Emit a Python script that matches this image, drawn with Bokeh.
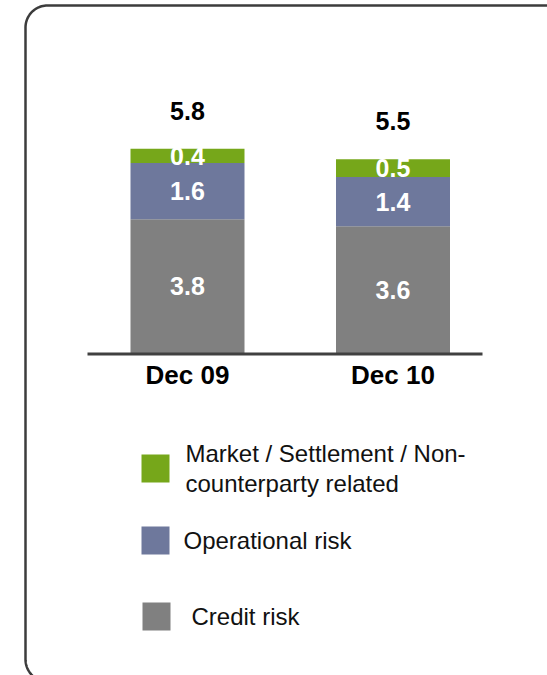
import numpy as np
from bokeh.plotting import figure
from bokeh.models import Range1d
from bokeh.core.properties import value
from bokeh.embed import file_html
from bokeh.resources import INLINE

# ---------------- data ----------------
periods = ["Dec 09", "Dec 10"]
credit_risk = [3.8, 3.6]
operational_risk = [1.6, 1.4]
market_settlement = [0.4, 0.5]
totals = [5.8, 5.5]

legend_labels = ["Market / Settlement / Non-\ncounterparty related",
                 "Operational risk",
                 "Credit risk"]

# ---------------- styles / layout ----------------
GREEN = "#76A71A"
BLUE = "#6E789C"
GRAY = "#808080"
EDGE = "#3C3C3C"
FONT = value("Liberation Sans")

W, H = 547, 675
OX, OY = 0, 0

base_px = 352.5                    # page y of bar base
top_px = 148.3                     # page y of tallest bar top
k = (base_px - top_px) / max(totals)   # px per unit

center0 = 187.0                    # page x of first category
step = 205.5                       # px between categories
bar_w_px = 114.0

p = figure(width=W, height=H, output_backend="svg", toolbar_location=None,
           x_range=Range1d(OX, OX + W), y_range=Range1d(OY + H, OY),
           x_axis_location=None, y_axis_location=None,
           min_border=0, outline_line_color=None)
p.grid.visible = False
p.background_fill_color = "white"
p.border_fill_color = "white"

p.extra_y_ranges = {"val": Range1d(-(OY + H - base_px) / k, (base_px - OY) / k)}
p.extra_x_ranges = {"cat": Range1d(-(center0 - OX) / step, (OX + W - center0) / step)}

# ---------------- rounded frame ----------------
def rounded_rect(l, t, r, b, rad, n=24):
    xs, ys = [], []
    corners = [((l + rad, t + rad), np.pi, 1.5 * np.pi),
               ((r - rad, t + rad), 1.5 * np.pi, 2 * np.pi),
               ((r - rad, b - rad), 0.0, 0.5 * np.pi),
               ((l + rad, b - rad), 0.5 * np.pi, np.pi)]
    for (cx, cy), a0, a1 in corners:
        th = np.linspace(a0, a1, n)
        xs.extend(cx + rad * np.cos(th))
        ys.extend(cy + rad * np.sin(th))
    xs.append(xs[0]); ys.append(ys[0])
    return xs, ys

fx, fy = rounded_rect(25, 5, 567, 681, 22)
p.line(fx, fy, line_color=EDGE, line_width=2.5)

# ---------------- bars ----------------
idx = np.arange(len(periods))
c = np.array(credit_risk)
o = np.array(operational_risk)
m = np.array(market_settlement)
bw = bar_w_px / step

p.vbar(x=idx, bottom=0, top=c, width=bw, fill_color=GRAY, line_color=None,
       x_range_name="cat", y_range_name="val")
p.vbar(x=idx, bottom=c, top=c + o, width=bw, fill_color=BLUE, line_color=None,
       x_range_name="cat", y_range_name="val")
p.vbar(x=idx, bottom=c + o, top=c + o + m, width=bw, fill_color=GREEN, line_color=None,
       x_range_name="cat", y_range_name="val")

# baseline
p.line([87, 482], [base_px + 1, base_px + 1], line_color="#404040", line_width=3)

# segment labels
seg_y = np.concatenate([c / 2, c + o / 2, c + o + m / 2])
seg_x = np.concatenate([idx, idx, idx])
seg_t = [f"{v:.1f}" for v in np.concatenate([c, o, m])]
p.text(x=seg_x, y=seg_y, text=seg_t, x_range_name="cat", y_range_name="val",
       text_align="center", text_baseline="middle", y_offset=0,
       text_color="white", text_font=FONT, text_font_style="bold",
       text_font_size="25px")

# totals
p.text(x=idx, y=totals, text=[f"{v:.1f}" for v in totals],
       x_range_name="cat", y_range_name="val",
       text_align="center", text_baseline="middle", y_offset=-38,
       text_color="black", text_font=FONT, text_font_style="bold",
       text_font_size="25px")

# category labels
p.text(x=idx, y=[0] * len(periods), text=periods,
       x_range_name="cat", y_range_name="val",
       text_align="center", text_baseline="middle", y_offset=22,
       text_color="black", text_font=FONT, text_font_style="bold",
       text_font_size="26px")

# ---------------- legend ----------------
leg_colors = [GREEN, BLUE, GRAY]
leg_sq_left = [141, 141, 142]
leg_sq_top = [454, 526, 602]
leg_sq = 28
leg_text_x = [185, 183, 191]

p.quad(left=leg_sq_left, right=[v + leg_sq for v in leg_sq_left],
       top=leg_sq_top, bottom=[v + leg_sq for v in leg_sq_top],
       fill_color=leg_colors, line_color=None)
p.text(x=leg_text_x, y=[v + leg_sq / 2 for v in leg_sq_top], text=legend_labels,
       text_align="left", text_baseline="middle", text_line_height=1.1,
       text_color="#111111", text_font=FONT, text_font_size="24px")

open("out.html", "w").write(file_html(p, INLINE))
